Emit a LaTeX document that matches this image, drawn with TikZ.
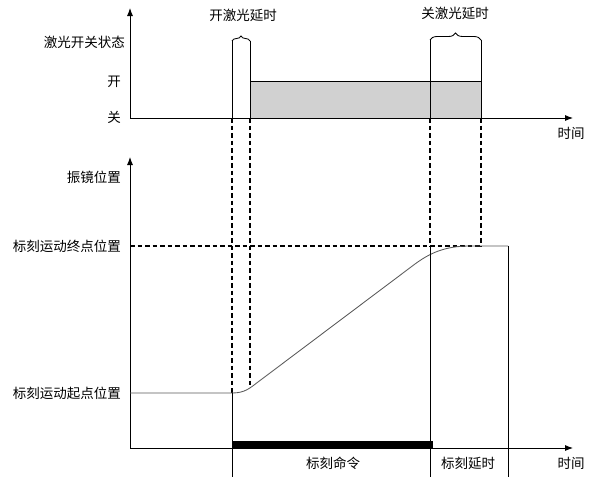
\documentclass[tikz,border=0pt]{standalone}
\usepackage{fontspec}
\setmainfont{Noto Sans CJK SC}
\usetikzlibrary{arrows.meta,decorations.pathreplacing}

\begin{document}
\begin{tikzpicture}[x=1pt, y=-1pt,
	dashline/.style={line width=0.45mm, dash pattern=on 4.5pt off 3pt},
	thinline/.style={line width=0.3mm},
	axisline/.style={line width=0.3mm, -{Latex[length=8pt,width=6pt]}},
	lbl/.style={font=\fontsize{13.5}{15}\selectfont, inner sep=0pt}]
		%%%%% START %%%%%
		\useasboundingbox (0, 0) rectangle (597, 485);
		
		% laser on/off state
		\draw[fill=black!18, thinline] (250, 81) rectangle (481, 118);
		\draw[axisline] (130, 118) -- (130, 8);
		\draw[axisline] (130, 118) -- (573, 118);
		
		\node[lbl, anchor=east] (state) at (125, 42) {激光开关状态};
		\node[lbl] (on) at (114, 82) {开};
		\node[lbl] (off) at (114, 117) {关};
		\node[lbl] (time1) at (571, 133) {时间};
		
		\draw[thinline] (232, 41) -- (232, 118);
		\draw[thinline] (250, 41) -- (250, 118);
		\draw[thinline] (430, 40) -- (430, 118);
		\draw[thinline] (481, 40) -- (481, 118);
		\draw[thinline, decorate, decoration={brace, amplitude=5pt}] (232, 41) -- (250, 41);
		\draw[thinline, decorate, decoration={brace, amplitude=7pt}] (430, 40) -- (481, 40);
		\node[lbl] (ondelay) at (243, 15) {开激光延时};
		\node[lbl] (offdelay) at (455, 13) {关激光延时};
		
		% dashed guides
		\draw[dashline] (232, 118) -- (232, 393);
		\draw[dashline] (250, 118) -- (250, 386);
		\draw[dashline] (430, 118) -- (430, 246);
		\draw[dashline] (481, 118) -- (481, 246);
		\draw[dashline] (130, 246) -- (481, 246);
		
		% galvo position
		\draw[axisline] (130, 448) -- (130, 157);
		\draw[axisline] (130, 448) -- (573, 448);
		\fill (232, 441) rectangle (433, 448);
		
		\node[lbl, anchor=east] (galvo) at (121, 177) {振镜位置};
		\node[lbl, anchor=east] (endpos) at (121, 246) {标刻运动终点位置};
		\node[lbl, anchor=east] (startpos) at (121, 393) {标刻运动起点位置};
		
		\draw[thinline, color=black!65] (130, 393) -- (232, 393) .. controls (245, 393) and (250, 388) .. (258, 382)
			-- (415, 264) .. controls (430, 253) and (445, 246) .. (470, 246) -- (508, 246);
		
		\draw[thinline] (232, 393) -- (232, 477);
		\draw[thinline] (430, 246) -- (430, 477);
		\draw[thinline] (508, 246) -- (508, 477);
		
		\node[lbl] (markcmd) at (333, 463) {标刻命令};
		\node[lbl] (markdelay) at (468, 463) {标刻延时};
		\node[lbl] (time2) at (571, 463) {时间};
		
		%%%%% END %%%%%
\end{tikzpicture}
\end{document}
